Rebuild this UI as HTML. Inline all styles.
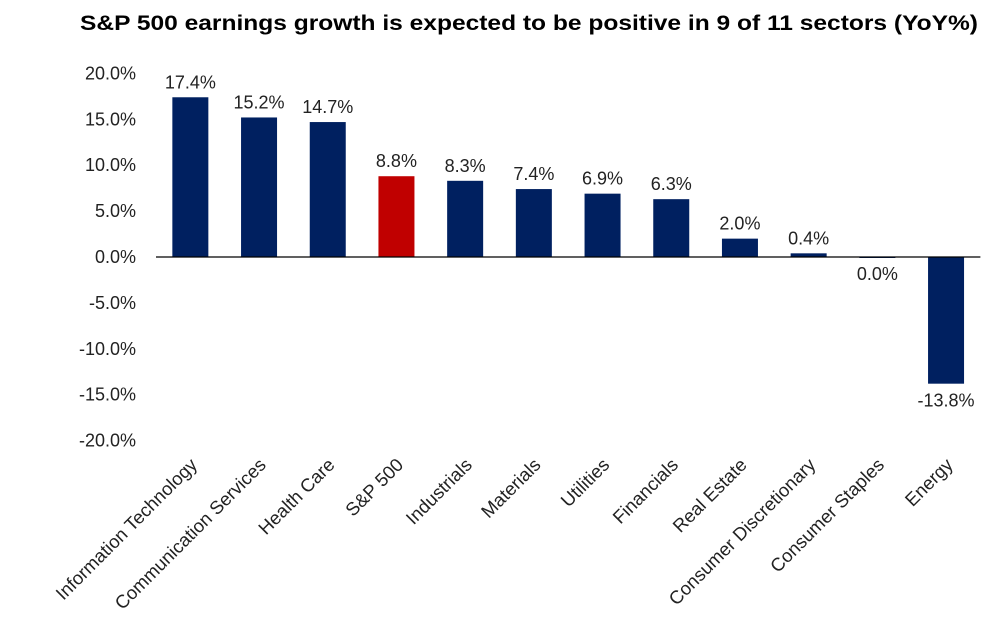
<!DOCTYPE html>
<html><head><meta charset="utf-8"><style>
html,body{margin:0;padding:0;background:#fff;}
svg{display:block;font-family:"Liberation Sans",Arial,sans-serif;}
</style></head><body>
<svg id="chart" width="983" height="623">
<text x="80" y="30" font-size="21" font-weight="bold" fill="#000" textLength="898" lengthAdjust="spacingAndGlyphs">S&amp;P 500 earnings growth is expected to be positive in 9 of 11 sectors (YoY%)</text>
<g id="yaxis"></g>
<g id="bars"></g>
<g id="xaxis"></g>
</svg>
<script>
const categories=["Information Technology","Communication Services","Health Care","S&P 500","Industrials","Materials","Utilities","Financials","Real Estate","Consumer Discretionary","Consumer Staples","Energy"];
const values=[17.4,15.2,14.7,8.8,8.3,7.4,6.9,6.3,2.0,0.4,0.0,-13.8];
const highlight=["S&P 500"];
const yTicks=[20,15,10,5,0,-5,-10,-15,-20];
const NS="http://www.w3.org/2000/svg";
const x0=156,step=68.7,barW=36;
function y(v){return 257-v*9.18;}
function xc(i){return x0+step*(i+0.5);}
function mk(tag,attrs,parent){const e=document.createElementNS(NS,tag);for(const k in attrs)e.setAttribute(k,attrs[k]);parent.appendChild(e);return e;}
const ya=document.getElementById('yaxis'),bg=document.getElementById('bars'),xa=document.getElementById('xaxis');
yTicks.forEach(t=>{
  const e=mk('text',{x:136,y:y(t)+6,'font-size':18,'text-anchor':'end',fill:'#222'},ya);
  e.textContent=t.toFixed(1)+'%';
  
  
});
values.forEach((v,i)=>{
  const top=Math.min(y(v),y(0)),h=Math.max(Math.abs(y(v)-y(0)),1);
  const r=mk('rect',{x:xc(i)-barW/2,y:top,width:barW,height:h,fill:highlight.includes(categories[i])?'#c00000':'#002060'},bg);
  
  
  const ly=v>0?y(v)-9:y(v)+23;
  const l=mk('text',{x:xc(i),y:ly,'font-size':18,'text-anchor':'middle',fill:'#222'},bg);
  l.textContent=v.toFixed(1)+'%';
  
  
  const cx=xc(i)+8,cy=466;
  const c=mk('text',{x:cx,y:cy,'font-size':18.5,'text-anchor':'end',fill:'#222',transform:`rotate(-45 ${cx} ${cy})`},xa);
  c.textContent=categories[i];
  
  
});
const ax=mk('line',{x1:x0,x2:x0+step*categories.length,y1:y(0),y2:y(0),stroke:'#000','stroke-width':1.3},xa);


</script>
</body></html>
